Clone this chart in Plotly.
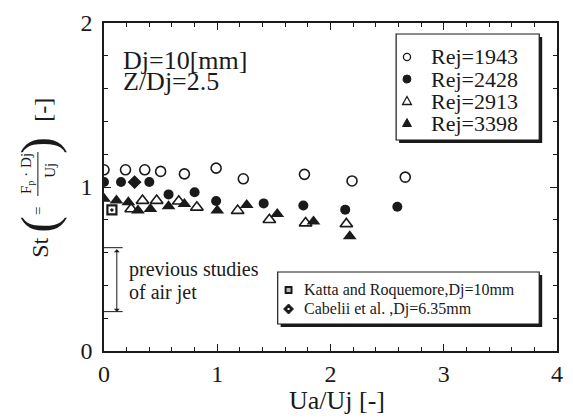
import plotly.graph_objects as go

# ---- data ----
x_1943 = [0.00, 0.19, 0.36, 0.50, 0.71, 0.99, 1.23, 1.77, 2.19, 2.66]
y_1943 = [1.105, 1.105, 1.105, 1.095, 1.08, 1.115, 1.05, 1.077, 1.037, 1.06]

x_2428 = [0.00, 0.15, 0.27, 0.40, 0.57, 0.80, 0.99, 1.41, 1.76, 2.13, 2.59]
y_2428 = [1.03, 1.03, 1.03, 1.03, 0.955, 0.968, 0.915, 0.90, 0.887, 0.862, 0.88]

x_2913 = [0.24, 0.34, 0.465, 0.66, 0.82, 1.18, 1.46, 1.78, 2.14]
y_2913 = [0.866, 0.917, 0.917, 0.913, 0.876, 0.856, 0.80, 0.78, 0.775]

x_3398 = [0.00, 0.11, 0.215, 0.30, 0.41, 0.57, 0.71, 1.00, 1.26, 1.53, 1.85, 2.17]
y_3398 = [0.928, 0.917, 0.907, 0.856, 0.866, 0.882, 0.897, 0.856, 0.89, 0.835, 0.79, 0.70]

x_katta = [0.07]
y_katta = [0.86]
x_cabelli = [0.27]
y_cabelli = [1.03]

series_names = ["Rej=1943", "Rej=2428", "Rej=2913", "Rej=3398"]
ref_names = ["Katta and Roquemore,Dj=10mm", "Cabelii et al. ,Dj=6.35mm"]

prev_range = [0.24, 0.63]   # St range of previous studies (air jet)
prev_x = 0.113
cap_x = [0.0, 0.165]

x_ticks = [0, 1, 2, 3, 4]
y_ticks = [0, 1, 2]

FONT = "Liberation Serif, Times New Roman, serif"
INK = "#1a1a1a"

W, H = 573, 419
ML, MR, MT, MB = 104, 10, 23, 68
PW, PH = W - ML - MR, H - MT - MB


def PX(p):
    return (p - ML) / PW


def PY(p):
    return (MT + PH - p) / PH


fig = go.Figure()

fig.add_trace(go.Scatter(x=x_1943, y=y_1943, mode="markers", name=series_names[0],
                         marker=dict(symbol="circle-open", size=10, color=INK, line=dict(width=1.6))))
fig.add_trace(go.Scatter(x=x_2428, y=y_2428, mode="markers", name=series_names[1],
                         marker=dict(symbol="circle", size=10, color=INK)))
fig.add_trace(go.Scatter(x=x_2913, y=y_2913, mode="markers", name=series_names[2],
                         marker=dict(symbol="triangle-up-open", size=11, color=INK, line=dict(width=1.6))))
fig.add_trace(go.Scatter(x=x_3398, y=y_3398, mode="markers", name=series_names[3],
                         marker=dict(symbol="triangle-up", size=12, color=INK)))
fig.add_trace(go.Scatter(x=x_katta, y=y_katta, mode="markers", name=ref_names[0],
                         marker=dict(symbol="square-open-dot", size=9, color=INK, line=dict(width=2.2))))
fig.add_trace(go.Scatter(x=x_cabelli, y=y_cabelli, mode="markers", name=ref_names[1],
                         marker=dict(symbol="diamond", size=12, color=INK, line=dict(width=1.2, color="white"))))

axis_common = dict(
    showline=True, linecolor=INK, linewidth=1.5, mirror="allticks",
    ticks="inside", ticklen=7, tickwidth=1.2, tickcolor=INK,
    showgrid=False, zeroline=False,
    tickfont=dict(family=FONT, size=24, color=INK),
)

fig.update_xaxes(range=[0, 4], tickvals=x_ticks, ticktext=[str(v) for v in x_ticks],
                 minor=dict(dtick=0.2, ticks="inside", ticklen=4, tickwidth=1, tickcolor=INK),
                 ticklabelstandoff=0, **axis_common)
fig.update_yaxes(range=[0, 2], tickvals=y_ticks, ticktext=[str(v) for v in y_ticks],
                 minor=dict(dtick=0.2, ticks="inside", ticklen=4, tickwidth=1, tickcolor=INK),
                 ticklabelstandoff=5, **axis_common)

ann = []
shapes = []


def A(text, x, y, size, angle=0, xanchor="center"):
    ann.append(dict(text=text, x=x, y=y, xref="paper", yref="paper", showarrow=False,
                    textangle=angle, xanchor=xanchor, yanchor="middle",
                    font=dict(family=FONT, size=size, color=INK)))


def rect(x0, y0, x1, y1, fill, lw=0):
    shapes.append(dict(type="rect", xref="paper", yref="paper", layer="above",
                       x0=PX(x0), x1=PX(x1), y0=PY(y1), y1=PY(y0),
                       fillcolor=fill, line=dict(color=INK, width=lw)))


def path(pts, fill, lw=1.2):
    d = "M " + " L ".join(f"{PX(a):.5f},{PY(b):.5f}" for a, b in pts) + " Z"
    shapes.append(dict(type="path", xref="paper", yref="paper", layer="above", path=d,
                       fillcolor=fill, line=dict(color=INK, width=lw)))


def circ(cx, cy, r, fill, lw=1.2):
    shapes.append(dict(type="circle", xref="paper", yref="paper", layer="above",
                       x0=PX(cx - r), x1=PX(cx + r), y0=PY(cy + r), y1=PY(cy - r),
                       fillcolor=fill, line=dict(color=INK, width=lw)))


# composite y-axis title: St ( = Fp·Dj / Uj ) [-]
A("St", PX(39), PY(248), 24, -90)
A("(", PX(38), PY(224), 50, -90)
A("=", PX(37), PY(211), 15, -90)
A("F<sub>p</sub> · Dj", PX(26), PY(174), 15, -90)
A("Uj", PX(49), PY(170), 15, -90)
A(")", PX(38), PY(145), 50, -90)
A("[-]", PX(42), PY(110), 24, -90)
shapes.append(dict(type="line", xref="paper", yref="paper", x0=PX(37), x1=PX(37),
                   y0=PY(152), y1=PY(196), line=dict(color=INK, width=1)))

# x-axis title
A("Ua/Uj [-]", PX(340), PY(400), 26)

# in-plot text
A("Dj=10[mm]", PX(121), PY(60), 26, xanchor="left")
A("Z/Dj=2.5", PX(121), PY(81), 26, xanchor="left")
A("previous studies", PX(127), PY(269), 20, xanchor="left")
A("of air jet", PX(127), PY(292), 20, xanchor="left")

# double-headed arrow for previous studies range
ann.append(dict(x=prev_x, y=prev_range[0], ax=prev_x, ay=prev_range[1], xref="x", yref="y",
                axref="x", ayref="y", text="", showarrow=True, arrowhead=1, arrowside="end+start",
                arrowsize=1, arrowwidth=1, arrowcolor=INK))
for v in prev_range:
    shapes.append(dict(type="line", xref="x", yref="y", x0=cap_x[0], x1=cap_x[1], y0=v, y1=v,
                       line=dict(color=INK, width=1)))

# ---- legend 1 (Reynolds numbers), drawn as a boxed key with shadow ----
rect(403, 37, 548, 143, INK)
rect(400, 34, 545, 140, "white", 1.2)
rows1 = [57, 79, 101, 123]
mx = 411
circ(mx, rows1[0], 3.6, "white", 1.3)
circ(mx, rows1[1], 4.0, INK, 1)
path([(mx - 4.5, rows1[2] + 3.5), (mx + 4.5, rows1[2] + 3.5), (mx, rows1[2] - 4.5)], "white", 1.3)
path([(mx - 4.5, rows1[3] + 3.5), (mx + 4.5, rows1[3] + 3.5), (mx, rows1[3] - 4.5)], INK, 1)
for name, ry in zip(series_names, rows1):
    A(name, PX(433), PY(ry), 22, xanchor="left")

# ---- legend 2 (previous studies) ----
rect(283, 275, 548, 327, INK)
rect(280, 272, 545, 324, "white", 1.2)
rows2 = [290, 309]
kx = 291
rect(kx - 4, rows2[0] - 4, kx + 4, rows2[0] + 4, INK, 0)
rect(kx - 2, rows2[0] - 2, kx + 2, rows2[0] + 2, "#bbbbbb", 0)
path([(kx - 5, rows2[1]), (kx, rows2[1] - 5), (kx + 5, rows2[1]), (kx, rows2[1] + 5)], INK, 1)
rect(kx - 1, rows2[1] - 1, kx + 1, rows2[1] + 1, "white", 0)
for name, ry in zip(ref_names, rows2):
    A(name, PX(305), PY(ry), 16, xanchor="left")

fig.update_layout(
    width=W, height=H,
    margin=dict(l=ML, r=MR, t=MT, b=MB),
    paper_bgcolor="white", plot_bgcolor="white",
    font=dict(family=FONT, color=INK),
    showlegend=False,
    annotations=ann,
    shapes=shapes,
)

fig.write_html("out.html",
               config={"displayModeBar": False},
               post_script="document.body.style.margin='0';document.body.style.overflow='hidden';")
